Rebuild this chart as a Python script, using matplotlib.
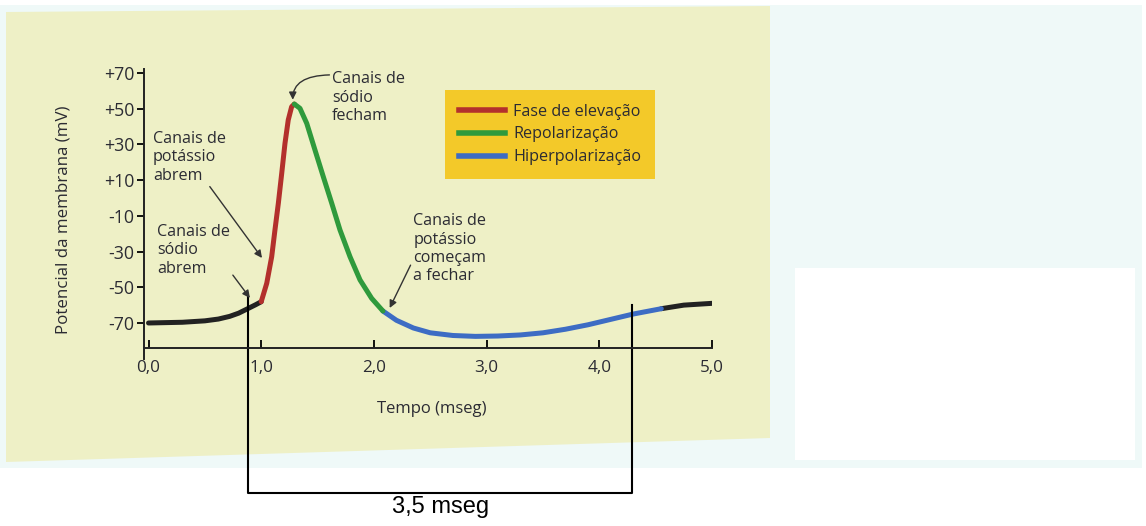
import matplotlib.pyplot as plt
from matplotlib.patches import Rectangle, Polygon
from matplotlib.lines import Line2D

# membrane potential trace, split by phase (ms, mV)
t_rest = [0.0, 0.3, 0.5, 0.62, 0.72, 0.8, 0.88, 0.95, 1.0]
v_rest = [-70, -69.6, -68.8, -67.8, -66.3, -64.5, -62, -59.8, -58.1]
t_rise = [1.0, 1.049, 1.093, 1.122, 1.152, 1.182, 1.211, 1.24, 1.27, 1.294]
v_rise = [-58.1, -47.8, -32.9, -17.9, -3, 13.8, 30.6, 43.7, 51.1, 52.6]
t_repol = [1.294, 1.344, 1.404, 1.477, 1.551, 1.626, 1.699, 1.788, 1.877, 1.98, 2.08]
v_repol = [52.6, 50.2, 41.8, 26.9, 11.9, -3, -17.9, -32.9, -45.9, -56.2, -63.3]
t_hyper = [2.08, 2.2, 2.35, 2.5, 2.7, 2.9, 3.1, 3.3, 3.5, 3.7, 3.9, 4.1, 4.3, 4.55]
v_hyper = [-63.3, -68.5, -72.8, -75.5, -77, -77.5, -77.3, -76.7, -75.5, -73.5, -71, -68, -65, -62]
t_end = [4.55, 4.75, 5.0]
v_end = [-62, -60, -59]

yticks = [-70, -50, -30, -10, 10, 30, 50, 70]
ylabels = ['-70', '-50', '-30', '-10', '+10', '+30', '+50', '+70']
xticks = [0, 1, 2, 3, 4, 5]
xlabels = ['0,0', '1,0', '2,0', '3,0', '4,0', '5,0']

phase_names = ['Fase de elevação', 'Repolarização', 'Hiperpolarização']
phase_colors = ['#b3302c', '#2f9a3c', '#3d6cc4']

# 3,5 ms bracket under the plot
brk_left, brk_right = 0.884, 4.294
brk_top_left, brk_top_right, brk_bottom = -55.4, -59.9, -165

plt.rcParams['font.family'] = ['Open Sans', 'DejaVu Sans']
txt = '#2b2b33'
fs = 11.6

fig = plt.figure(figsize=(11.46, 5.26), dpi=100)
W, H = 1146, 526

# scanned page background
fig.patches.append(Rectangle((0, 1 - 468 / H), 1142 / W, 463 / H, transform=fig.transFigure,
                             facecolor='#eff9f8', edgecolor='none', zorder=-10))
fig.patches.append(Polygon([(6 / W, 1 - 12 / H), (770 / W, 1 - 6 / H), (770 / W, 1 - 438 / H), (6 / W, 1 - 462 / H)],
                           closed=True, transform=fig.transFigure,
                           facecolor='#eef0c6', edgecolor='none', zorder=-9))
fig.patches.append(Rectangle((795 / W, 1 - 460 / H), 340 / W, 192 / H, transform=fig.transFigure,
                             facecolor='white', edgecolor='none', zorder=-8))

ax = fig.add_axes([144 / W, (526 - 358.7) / H, 568 / W, 289.3 / H])
ax.patch.set_alpha(0)

lw = 3.6
style = dict(lw=lw, solid_capstyle='round', solid_joinstyle='round')
ax.plot(t_rest, v_rest, color='#222222', **style)
ax.plot(t_end, v_end, color='#222222', **style)
ax.plot(t_hyper, v_hyper, color=phase_colors[2], **style)
ax.plot(t_rise, v_rise, color=phase_colors[0], **style)
ax.plot(t_repol, v_repol, color=phase_colors[1], **style)

ax.set_xlim(-0.04, 5.0)
ax.set_ylim(-90, 72)
for s in ['top', 'right']:
    ax.spines[s].set_visible(False)
ax.spines['left'].set_position(('data', -0.04))
ax.spines['bottom'].set_position(('data', -84))
ax.spines['bottom'].set_bounds(-0.04, 5.0)
for s in ['left', 'bottom']:
    ax.spines[s].set_linewidth(1.4)
    ax.spines[s].set_color('#222222')

ax.set_yticks(yticks, ylabels, fontsize=12.8, color=txt)
ax.set_xticks(xticks, xlabels, fontsize=12.3, color=txt)
ax.tick_params(axis='y', direction='out', length=5, width=1.3, pad=2)
ax.tick_params(axis='x', direction='in', length=6, width=1.3, pad=9)

ax.set_ylabel('Potencial da membrana (mV)', fontsize=12.2, color=txt)
ax.yaxis.set_label_coords(-0.128, 0.479)
ax.set_xlabel('Tempo (mseg)', fontsize=12, color=txt)
ax.xaxis.set_label_coords(0.507, -0.146)

# annotations
arw = dict(arrowstyle='-|>', color='#333333', lw=1.0, mutation_scale=11, shrinkA=0, shrinkB=0)
ax.annotate('Canais de\nsódio\nfecham', xy=(1.28, 55), xytext=(1.63, 71), fontsize=fs, color=txt,
            ha='left', va='top', arrowprops=dict(arw, connectionstyle='angle3,angleA=0,angleB=90',
                                                 relpos=(0, 0.93)))
ax.annotate('Canais de\npotássio\nabrem', xy=(1.007, -33.6), xytext=(0.04, 37.5), fontsize=fs, color=txt,
            ha='left', va='top', arrowprops=dict(arw, relpos=(0.75, 0.0)))
ax.annotate('Canais de\nsódio\nabrem', xy=(0.9, -56), xytext=(0.076, -14.5), fontsize=fs, color=txt,
            ha='left', va='top', arrowprops=dict(arw, relpos=(1.0, 0.1)))
ax.annotate('Canais de\npotássio\ncomeçam\na fechar', xy=(2.14, -61.6), xytext=(2.35, -8.5), fontsize=fs,
            color=txt, ha='left', va='top', arrowprops=dict(arw, relpos=(0.0, 0.35)))

# legend
handles = [Line2D([0], [0], color=c, lw=4) for c in phase_colors]
leg = ax.legend(handles, phase_names, loc='upper left', bbox_to_anchor=(445 / W, 1 - 90 / H),
                bbox_transform=fig.transFigure, borderaxespad=0, fontsize=fs, frameon=True,
                fancybox=False, facecolor='#f3c929', edgecolor='none', framealpha=1,
                handlelength=2.9, handletextpad=0.5, labelspacing=0.42, borderpad=0.85)
for t in leg.get_texts():
    t.set_color(txt)

# bracket
ax.plot([brk_left, brk_left, brk_right, brk_right], [brk_top_left, brk_bottom, brk_bottom, brk_top_right],
        color='black', lw=1.5, clip_on=False)
ax.text((brk_left + brk_right) / 2, brk_bottom - 2, '3,5 mseg', ha='center', va='top',
        fontsize=17, family='Liberation Sans', color='black', clip_on=False)

fig.savefig('out.png', dpi=100)
